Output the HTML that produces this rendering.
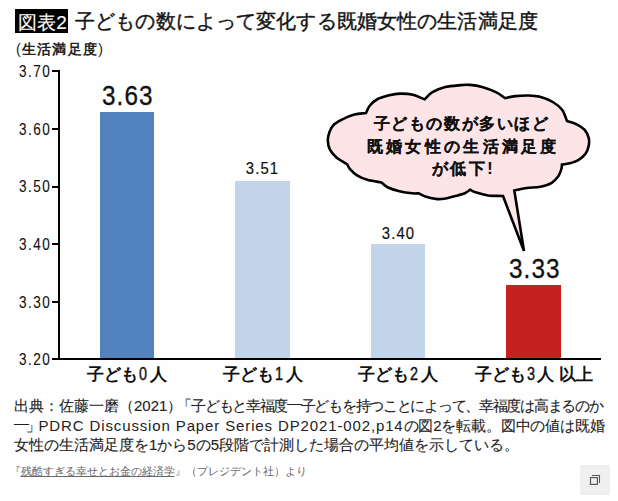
<!DOCTYPE html>
<html lang="ja">
<head>
<meta charset="utf-8">
<style>
html,body{margin:0;padding:0;background:#fff;}
body{width:618px;height:501px;position:relative;overflow:hidden;font-family:"Liberation Sans",sans-serif;color:#111;}
.a{position:absolute;white-space:nowrap;}
#chart{position:absolute;left:0;top:5px;width:610px;height:450px;background:#fefefe;}
.box{left:15px;top:9px;width:53px;height:24px;background:#000;}
.boxt{left:16px;top:10.5px;width:53px;font-size:19px;line-height:24px;text-align:center;color:#fff;-webkit-text-stroke:0.1px #fff;}
.title{left:75px;top:9px;font-size:20px;line-height:24px;color:#151515;letter-spacing:0.13px;-webkit-text-stroke:0.4px #151515;}
.unit{left:16px;top:41px;font-size:14px;line-height:17px;font-weight:bold;color:#222;letter-spacing:1.25px;}
.yl{left:0px;width:51.5px;text-align:right;font-size:16.5px;line-height:16px;color:#111;letter-spacing:1.8px;-webkit-text-stroke:0.12px #111;}
.yl span{display:inline-block;transform:scaleX(0.82);transform-origin:100% 50%;}
.tick{left:52px;width:8px;height:2px;background:#000;}
.vax{left:58px;top:70px;width:2px;height:290px;background:#000;}
.hax{left:58px;top:358px;width:543px;height:2px;background:#000;}
.bar{width:54px;}
.val{font-size:16.5px;line-height:16px;text-align:center;width:80px;color:#111;letter-spacing:1.2px;-webkit-text-stroke:0.2px #111;}
.big{font-size:27px;line-height:27px;letter-spacing:1.2px;-webkit-text-stroke:0.3px #111;}
.val span{display:inline-block;transform:scaleX(0.9);}
.big span{padding-left:1.2px;}
.cat{top:364px;font-size:17px;line-height:20px;font-weight:bold;text-align:center;width:130px;color:#111;}
.d{display:inline-block;font-weight:normal;font-size:18px;transform:scaleX(0.8);-webkit-text-stroke:0.4px #111;margin:0 1px 0 0;}
.bub{left:341px;width:240px;text-align:center;font-size:16px;line-height:23px;font-weight:bold;color:#111;-webkit-text-stroke:0.15px #111;}
.note{left:14px;font-size:15px;line-height:20px;color:#222;-webkit-text-stroke:0.1px #222;}
.src{left:9.5px;top:464px;font-size:11px;line-height:14px;color:#666;}
.src u{text-decoration:underline;}
.copy{left:580px;top:465px;width:30px;height:30px;background:#efefef;}
</style>
</head>
<body>
<div id="chart"></div>
<div class="a box"></div>
<div class="a boxt">図表2</div>
<div class="a title">子どもの数によって変化する既婚女性の生活満足度</div>
<div class="a unit"><span style="font-weight:normal">(</span>生活満足度<span style="font-weight:normal">)</span></div>

<div class="a yl" style="top:62.8px"><span>3.70</span></div>
<div class="a yl" style="top:120.5px"><span>3.60</span></div>
<div class="a yl" style="top:178.3px"><span>3.50</span></div>
<div class="a yl" style="top:236px"><span>3.40</span></div>
<div class="a yl" style="top:293.6px"><span>3.30</span></div>
<div class="a yl" style="top:350.9px"><span>3.20</span></div>

<div class="a tick" style="top:70px"></div>
<div class="a tick" style="top:128px"></div>
<div class="a tick" style="top:186px"></div>
<div class="a tick" style="top:243px"></div>
<div class="a tick" style="top:301px"></div>
<div class="a tick" style="top:358px"></div>
<div class="a vax"></div>

<div class="a bar" style="left:100px;top:112px;height:246px;background:#5383be"></div>
<div class="a bar" style="left:235px;width:55px;top:181px;height:177px;background:#c1d4ea"></div>
<div class="a bar" style="left:371px;top:244px;height:114px;background:#c1d4ea"></div>
<div class="a bar" style="left:506px;width:55px;top:285px;height:73px;background:#c4201f"></div>
<div class="a hax"></div>

<div class="a val big" style="left:87px;top:82.5px"><span>3.63</span></div>
<div class="a val" style="left:222.5px;top:160px"><span>3.51</span></div>
<div class="a val" style="left:358px;top:224.5px"><span>3.40</span></div>
<div class="a val big" style="left:494px;top:256px"><span>3.33</span></div>

<div class="a cat" style="left:62px">子ども<span class="d">0</span>人</div>
<div class="a cat" style="left:198px">子ども<span class="d">1</span>人</div>
<div class="a cat" style="left:333px">子ども<span class="d">2</span>人</div>
<div class="a cat" style="left:469px">子ども<span class="d">3</span>人 以上</div>

<svg class="a" style="left:0;top:0" width="618" height="501" viewBox="0 0 618 501">
<path d="M366 113 C367.3 110.5 367.9 107.8 369.9 105.5 C371.8 103.2 374.5 100.7 377.7 99.0 C380.9 97.3 385.6 96.1 389.3 95.2 C393.0 94.3 396.1 93.7 400.0 93.6 C403.9 93.5 408.8 93.8 412.9 94.8 C417.0 95.8 420.7 97.9 424.6 99.4 C427.2 97.0 428.9 94.2 432.4 92.2 C435.8 90.2 440.6 88.3 445.3 87.1 C450.0 85.9 456.7 85.5 460.8 85.1 C464.9 84.7 466.3 84.6 470.0 84.9 C473.7 85.2 478.7 86.0 483.0 87.2 C487.3 88.4 492.2 90.4 495.9 92.2 C499.6 94.0 502.0 96.1 505.0 98.1 C508.4 97.4 511.4 96.5 515.3 96.1 C519.2 95.7 524.2 95.4 528.3 95.5 C532.4 95.6 535.8 95.7 539.9 96.8 C544.0 97.9 549.1 99.8 552.8 102.0 C556.5 104.2 559.9 106.8 562.3 110.0 C564.7 113.2 565.4 117.3 567.0 121.0 C570.2 122.1 573.8 122.8 576.7 124.3 C579.7 125.8 582.7 127.6 584.7 129.9 C586.7 132.2 588.0 135.2 588.7 137.9 C589.4 140.6 589.2 143.2 588.7 145.8 C588.2 148.5 587.2 151.4 585.5 153.8 C583.8 156.2 581.0 158.6 578.3 160.2 C575.6 161.8 572.2 162.6 569.5 163.3 C566.8 164.0 564.5 164.1 562.0 164.5 C561.8 166.1 561.9 167.4 561.3 169.3 C560.7 171.2 560.1 173.8 558.5 176.0 C556.9 178.2 554.7 181.0 551.7 182.8 C548.7 184.6 544.5 185.9 540.4 186.8 C536.2 187.7 531.1 187.4 526.8 188.0 C522.4 188.6 518.5 189.7 514.3 190.5 L524 251 L503 196 C498.0 195.8 492.4 196.1 488.0 195.5 C483.6 194.9 479.4 193.6 476.4 192.6 C473.4 191.6 472.1 190.7 470.0 189.7 C468.3 190.9 467.4 192.2 464.8 193.3 C462.2 194.4 458.1 195.3 454.6 196.2 C451.1 197.1 447.1 198.4 444.0 198.8 C440.9 199.2 438.8 199.3 435.7 198.9 C432.6 198.5 428.1 197.4 425.3 196.5 C422.5 195.6 421.0 194.4 418.8 193.3 C416.7 193.3 415.6 193.7 412.4 193.3 C409.2 193.0 403.5 192.2 399.4 191.2 C395.3 190.2 391.0 188.9 388.0 187.5 C385.0 186.1 383.7 184.2 381.5 182.5 C376.8 181.6 371.4 181.0 367.3 179.8 C363.2 178.6 359.9 177.1 357.0 175.3 C354.1 173.5 351.4 170.6 349.8 168.8 C348.2 167.0 348.1 165.8 347.2 164.3 C343.5 161.9 339.1 159.7 336.2 157.2 C333.3 154.7 331.2 152.2 329.8 149.4 C328.4 146.6 327.9 143.3 327.8 140.4 C327.8 137.5 328.5 134.7 329.5 132.0 C330.5 129.3 332.0 126.5 334.0 124.5 C336.0 122.5 338.0 121.5 341.4 119.8 C344.8 118.1 350.3 115.7 354.4 114.6 C358.5 113.5 362.1 113.5 366.0 113.0 Z" fill="#fde5e7" stroke="#000" stroke-width="2.6" stroke-linejoin="miter"/>
</svg>
<div class="a bub" style="top:111.8px;letter-spacing:1.6px;padding-left:1.6px;margin-left:-1px">子どもの数が多いほど</div>
<div class="a bub" style="top:134.6px;letter-spacing:3.3px;padding-left:3.3px;margin-left:-1px">既婚女性の生活満足度</div>
<div class="a bub" style="top:157.4px;letter-spacing:2.5px;padding-left:2.5px">が低下!</div>

<div class="a note" id="n1" style="top:396px"><span id="n1a">出典：佐藤一磨</span><span id="n1b">（2021）</span><span id="n1c" style="letter-spacing:-1.29px;margin-left:-5px">「子どもと幸福度<span style="position:relative;top:-3px">―</span>子どもを持つことによって、幸福度は高まるのか</span></div>
<div class="a note" id="n2" style="top:415.5px"><span id="n2a" style="letter-spacing:-2.75px"><span style="position:relative;top:-3px">―</span>」</span><span id="n2b" style="letter-spacing:0.87px;-webkit-text-stroke:0">PDRC Discussion Paper Series DP2021-002,p14</span><span id="n2c" style="letter-spacing:-0.17px">の図2を転載。図中の値は既婚</span></div>
<div class="a note" id="n3" style="top:434.8px">女性の生活満足度を1から5の5段階で計測した場合の平均値を示している。</div>
<div class="a src">『<u>残酷すぎる幸せとお金の経済学</u>』（プレジデント社）より</div>

<div class="a copy">
<svg width="30" height="30" viewBox="0 0 30 30"><path d="M12 10.5 H19.5 V18" fill="none" stroke="#5a5a5a" stroke-width="1.1"/><rect x="10.5" y="12.6" width="6.9" height="6.8" fill="none" stroke="#555" stroke-width="1.15"/></svg>
</div>
</body>
</html>
